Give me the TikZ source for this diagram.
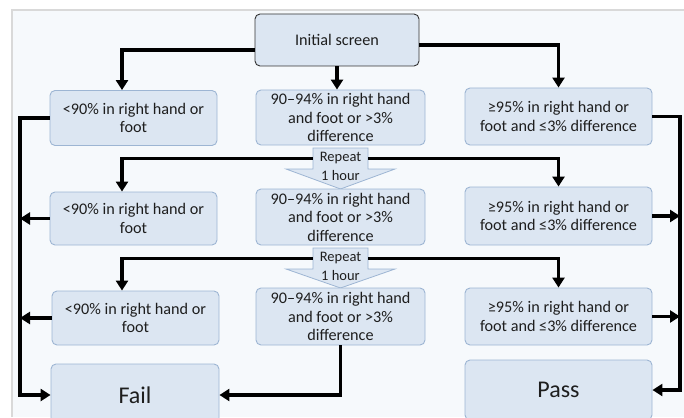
\documentclass[tikz,border=0pt]{standalone}
\usepackage{fontspec}
\setmainfont{Carlito}
\usetikzlibrary{arrows.meta}
\definecolor{boxfill}{HTML}{DCE6F2}
\definecolor{boxline}{HTML}{9DB5D3}
\definecolor{bgfill}{HTML}{F6F9FC}
\definecolor{txt}{HTML}{1E1E1E}

\begin{document}
\begin{tikzpicture}[x=1pt, y=-1pt,
    box/.style={rectangle, rounded corners=5pt, draw=boxline, line width=0.9pt, fill=boxfill,
      align=center, inner sep=0pt, text=txt, font=\fontsize{16.2}{18.5}\selectfont},
    bigbox/.style={box, font=\fontsize{24}{28}\selectfont},
    reptext/.style={inner sep=0pt, text=txt, font=\fontsize{14.5}{16}\selectfont},
    callout/.style={draw=boxline, fill=boxfill, line width=0.8pt},
    flow/.style={line width=3.4pt, -{Triangle[length=10pt, width=12pt]}}]
      \useasboundingbox (0,0) rectangle (684,417);
      \fill[white] (0,0) rectangle (684,417);
      \fill[bgfill] (12,10) rectangle (684,417);
      \draw[black!15, line width=1.5pt] (12,417) -- (12,10) -- (684,10);

      \coordinate (lft) at (20,0);
      \coordinate (rgt) at (680,0);
      \coordinate (lcol) at (122,0);

      % first screening
      \node[box, draw=black!80, minimum width=164, minimum height=52] (init) at (337,40) {Initial screen};
      \node[box, minimum width=167, minimum height=55] (l1) at (133.5,118) {<90\% in right hand or\\foot};
      \node[box, minimum width=169, minimum height=55] (m1) at (340.5,117.5) {90–94\% in right hand\\and foot or >3\%\\difference};
      \node[box, minimum width=187, minimum height=57] (r1) at (558.5,116.5) {≥95\% in right hand or\\foot and ≤3\% difference};

      % repeat after 1 hour
      \draw[callout] (313,148) -- (368,148) -- (368,169) -- (395,169) -- (340.5,189) -- (286,169) -- (313,169) -- cycle;
      \node[reptext, minimum width=55, minimum height=21] (rep1) at (340.5,158.5) {Repeat};
      \node[reptext] (rep1b) at (340.5,176) {1 hour};

      \node[box, minimum width=167, minimum height=53] (l2) at (133.5,218.5) {<90\% in right hand or\\foot};
      \node[box, minimum width=169, minimum height=56] (m2) at (340.5,217) {90–94\% in right hand\\and foot or >3\%\\difference};
      \node[box, minimum width=187, minimum height=58] (r2) at (558.5,216) {≥95\% in right hand or\\foot and ≤3\% difference};

      % repeat once more
      \draw[callout] (313,248) -- (368,248) -- (368,269) -- (395,269) -- (340.5,288) -- (286,269) -- (313,269) -- cycle;
      \node[reptext, minimum width=55, minimum height=21] (rep2) at (340.5,258.5) {Repeat};
      \node[reptext] (rep2b) at (340.5,276) {1 hour};

      \node[box, minimum width=167, minimum height=54] (l3) at (135.5,318) {<90\% in right hand or\\foot};
      \node[box, minimum width=169, minimum height=57] (m3) at (340.5,316.5) {90–94\% in right hand\\and foot or >3\%\\difference};
      \node[box, minimum width=187, minimum height=57] (r3) at (558.5,316.5) {≥95\% in right hand or\\foot and ≤3\% difference};

      % outcomes
      \node[bigbox, minimum width=168, minimum height=62] (fail) at (135,395) {Fail};
      \node[bigbox, minimum width=187, minimum height=60] (pass) at (558.5,390) {Pass};

      \draw[flow] ([yshift=-10]init.west) -| (l1.north -| lcol);
      \draw[flow] (init.south) -- (init.south |- m1.north);
      \draw[flow] ([yshift=-5]init.east) -| (r1.north);

      \draw[flow] (rep1.west) -| (l2.north -| lcol);
      \draw[flow] (rep1.east) -| (r2.north);
      \draw[flow] (rep2.west) -| (l3.north -| lcol);
      \draw[flow] (rep2.east) -| (r3.north);

      \draw[flow] (l1.west) -- (l1.west -| lft) |- (fail.west);
      \draw[flow] (l2.west) -- (l2.west -| lft);
      \draw[flow] (l3.west) -- (l3.west -| lft);
      \draw[flow] (m3.south) |- (fail.east);

      \draw[flow] (r1.east) -- (r1.east -| rgt) |- (pass.east);
      \draw[flow] (r2.east) -- (r2.east -| rgt);
      \draw[flow] (r3.east) -- (r3.east -| rgt);
\end{tikzpicture}
\end{document}
